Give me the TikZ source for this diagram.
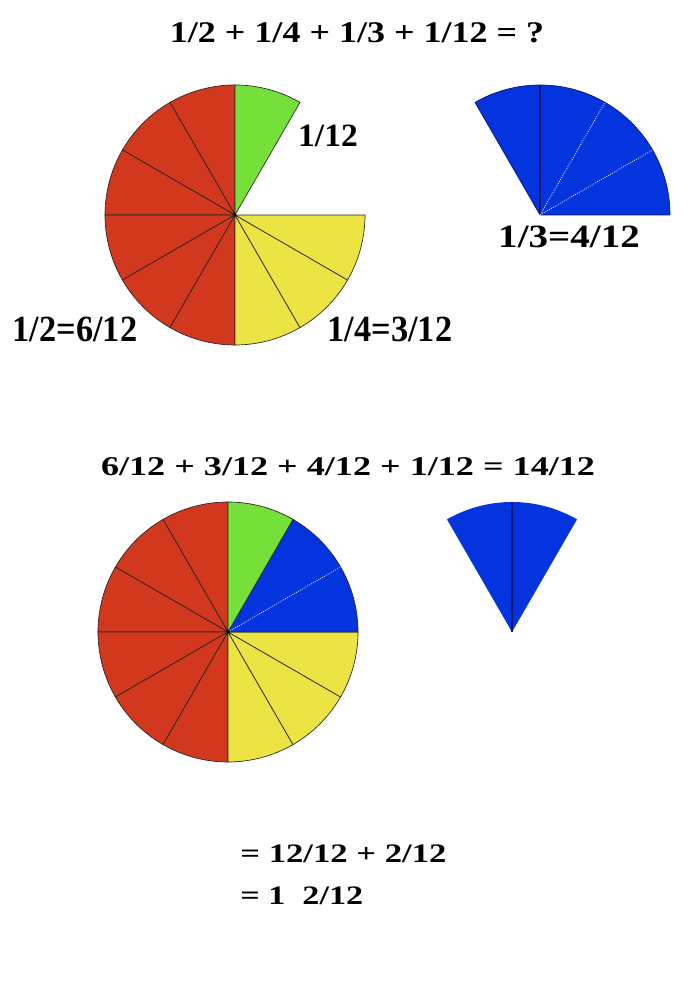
\documentclass[tikz,border=0pt]{standalone}
\usepackage{fontspec}
\setmainfont{Liberation Serif}
\usetikzlibrary{positioning}

\definecolor{pieRed}{RGB}{210,56,30}
\definecolor{pieGreen}{RGB}{118,224,58}
\definecolor{pieYellow}{RGB}{236,228,66}
\definecolor{pieBlue}{RGB}{4,52,222}
\definecolor{pieNavy}{RGB}{10,22,110}

\tikzset{
	slice/.style={draw=black!85, line width=0.5pt},
	bluecut/.style={white, densely dotted, line width=0.6pt},
	navycut/.style={pieNavy, line width=1.4pt},
	fraction/.style={font=\bfseries, inner sep=0pt, anchor=base, transform shape}
}

\begin{document}
\begin{tikzpicture}[x=0.75pt, y=0.75pt]

		\useasboundingbox (0,0) rectangle (700,1000);
		\def\rad{130} % radius of every pie
		\def\tx{235} \def\ty{785} % centre of upper pie
		\def\bx{228} \def\by{368} % centre of lower pie

		% Upper pie: red half, yellow quarter, green twelfth
		\foreach \a in {90,120,...,240} {
			\pgfmathsetmacro{\b}{\a+30}
			\filldraw[slice, fill=pieRed] (\tx,\ty) -- ++(\a:\rad) arc (\a:\b:\rad) -- cycle;
		}
		\foreach \a in {-90,-60,-30} {
			\pgfmathsetmacro{\b}{\a+30}
			\filldraw[slice, fill=pieYellow] (\tx,\ty) -- ++(\a:\rad) arc (\a:\b:\rad) -- cycle;
		}
		\filldraw[slice, fill=pieGreen] (\tx,\ty) -- ++(60:\rad) arc (60:90:\rad) -- cycle;
		\fill (\tx,\ty) circle (1.5);

		% Upper blue third, cut in four twelfths
		\filldraw[fill=pieBlue, draw=pieNavy, line width=0.5pt] (540,\ty) -- ++(0:\rad) arc (0:120:\rad) -- cycle;
		\draw[navycut] (540,\ty) -- ++(90:\rad);
		\foreach \a in {30,60}
			\draw[bluecut] (540,\ty) -- ++(\a:\rad);

		% Lower pie: the blue twelfths fill the gap
		\foreach \a in {90,120,...,240} {
			\pgfmathsetmacro{\b}{\a+30}
			\filldraw[slice, fill=pieRed] (\bx,\by) -- ++(\a:\rad) arc (\a:\b:\rad) -- cycle;
		}
		\foreach \a in {-90,-60,-30} {
			\pgfmathsetmacro{\b}{\a+30}
			\filldraw[slice, fill=pieYellow] (\bx,\by) -- ++(\a:\rad) arc (\a:\b:\rad) -- cycle;
		}
		\filldraw[slice, fill=pieBlue] (\bx,\by) -- ++(0:\rad) arc (0:60:\rad) -- cycle;
		\draw[bluecut] (\bx,\by) -- ++(30:\rad);
		\filldraw[slice, fill=pieGreen] (\bx,\by) -- ++(60:\rad) arc (60:90:\rad) -- cycle;
		\fill (\bx,\by) circle (1.5);

		% Left-over two twelfths
		\fill[pieBlue] (512,\by) -- ++(60:\rad) arc (60:120:\rad) -- cycle;
		\draw[navycut] (512,\by) -- ++(90:\rad);

		% Sums and labels
		\node[fraction, font=\fontsize{22.5}{26}\selectfont\bfseries, xscale=1.2] (sumtop) at (357,957) {1/2 + 1/4 + 1/3 + 1/12 = ?};
		\node[fraction, font=\fontsize{24.4}{28}\selectfont\bfseries, xscale=1.03] (twelfth) at (328,853) {1/12};
		\node[fraction, font=\fontsize{24.4}{28}\selectfont\bfseries, xscale=1.2] (third) at (569,752) {1/3=4/12};
		\node[fraction, font=\fontsize{27.7}{32}\selectfont\bfseries, xscale=0.93] (half) at (75,658) {1/2=6/12};
		\node[fraction, font=\fontsize{27.7}{32}\selectfont\bfseries, xscale=0.93] (quarter) at (390,658) {1/4=3/12};
		\node[fraction, font=\fontsize{20.3}{24}\selectfont\bfseries, xscale=1.335] (summid) at (348,524) {6/12 + 3/12 + 4/12 + 1/12 = 14/12};
		\node[fraction, anchor=base west, font=\fontsize{20}{24}\selectfont\bfseries, xscale=1.3] (sumone) at (240,137) {= 12/12 + 2/12};
		\node[fraction, anchor=base west, font=\fontsize{20}{24}\selectfont\bfseries, xscale=1.28] (sumtwo) at (240,95) {= 1\ \ 2/12};

	\end{tikzpicture}
\end{document}
